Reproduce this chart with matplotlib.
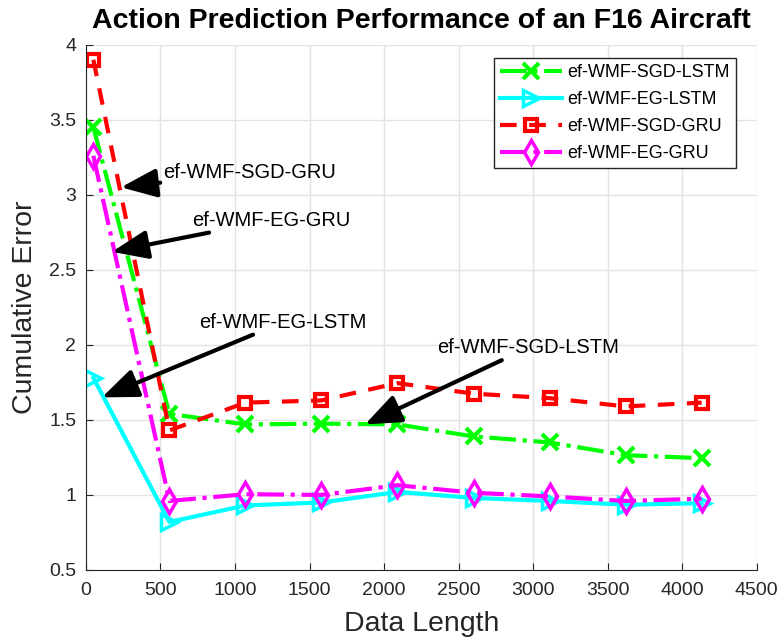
import numpy as np
import matplotlib
matplotlib.use('Agg')
import matplotlib.pyplot as plt
from matplotlib.patches import ArrowStyle

plt.rcParams['font.family'] = ['Liberation Sans', 'DejaVu Sans']

# Data
data_length = [50, 560, 1070, 1580, 2090, 2600, 3110, 3620, 4130]
sgd_lstm = [3.45, 1.54, 1.47, 1.475, 1.47, 1.39, 1.35, 1.265, 1.245]
eg_lstm = [1.78, 0.82, 0.93, 0.95, 1.02, 0.98, 0.96, 0.935, 0.945]
sgd_gru = [3.9, 1.43, 1.615, 1.63, 1.745, 1.675, 1.645, 1.59, 1.615]
eg_gru = [3.26, 0.96, 1.005, 1.0, 1.065, 1.015, 0.99, 0.96, 0.975]

xticks = np.arange(0, 4501, 500)
yticks = np.arange(0.5, 4.01, 0.5)

fig = plt.figure(figsize=(7.81, 6.39), dpi=100)
ax = fig.add_axes([0.110, 0.108, 0.859, 0.822])

ax.plot(data_length, sgd_lstm, color=(0, 1, 0), ls='-.', lw=3, marker='x',
        ms=12, mew=3, label='ef-WMF-SGD-LSTM')
ax.plot(data_length, eg_lstm, color=(0, 1, 1), ls='-', lw=3, marker='>',
        ms=12, mew=2.5, mfc='none', label='ef-WMF-EG-LSTM')
ax.plot(data_length, sgd_gru, color=(1, 0, 0), ls='--', lw=3, marker='s',
        ms=8, mew=3, mfc='none', label='ef-WMF-SGD-GRU', dashes=(4, 3))
ax.plot(data_length, eg_gru, color=(1, 0, 1), ls='-.', lw=3, marker='d',
        ms=12, mew=2.5, mfc='none', label='ef-WMF-EG-GRU')

# Annotations with arrows
head = ArrowStyle('-|>', head_length=1.0, head_width=0.4)
arrow = dict(arrowstyle=head, color='k', lw=3, mutation_scale=22, shrinkA=0, shrinkB=0)
ax.annotate('ef-WMF-SGD-GRU', xy=(235, 3.05), xytext=(517, 3.15), fontsize=14.5,
            va='center', arrowprops=arrow)
ax.annotate('ef-WMF-EG-GRU', xy=(175, 2.62), xytext=(711, 2.83), fontsize=14.5,
            va='center', arrowprops=arrow)
ax.annotate('ef-WMF-EG-LSTM', xy=(107, 1.65), xytext=(758, 2.15), fontsize=14.5,
            va='center', arrowprops=arrow)
ax.annotate('ef-WMF-SGD-LSTM', xy=(1872, 1.47), xytext=(2355, 1.98), fontsize=14.5,
            va='center', arrowprops=arrow)

ax.set_xlim(0, 4500)
ax.set_ylim(0.5, 4)
ax.set_xticks(xticks)
ax.set_yticks(yticks)
ax.set_yticklabels(['%g' % v for v in yticks])
ax.tick_params(direction='in', labelsize=14, colors='#262626', length=5)
ax.tick_params(axis='x', pad=9)
ax.tick_params(axis='y', pad=7)
ax.grid(True, color='#e3e3e3', lw=1)
ax.set_axisbelow(True)
ax.spines['top'].set_visible(False)
ax.spines['right'].set_visible(False)
for s in ['left', 'bottom']:
    ax.spines[s].set_color('#262626')

ax.set_xlabel('Data Length', fontsize=20.5, color='#262626', labelpad=8)
ax.set_ylabel('Cumulative Error', fontsize=20.5, color='#262626', labelpad=8)
ax.set_title('Action Prediction Performance of an F16 Aircraft', fontsize=20.5,
             fontweight='bold', pad=12)

leg = ax.legend(loc='upper right', bbox_to_anchor=(0.969, 0.975), fontsize=13,
                fancybox=False, framealpha=1, edgecolor='#262626',
                handlelength=3.4, handletextpad=0.3, borderpad=0.35,
                labelspacing=0.55, borderaxespad=0)
leg.get_frame().set_linewidth(1)

fig.savefig('out.png', dpi=100)
